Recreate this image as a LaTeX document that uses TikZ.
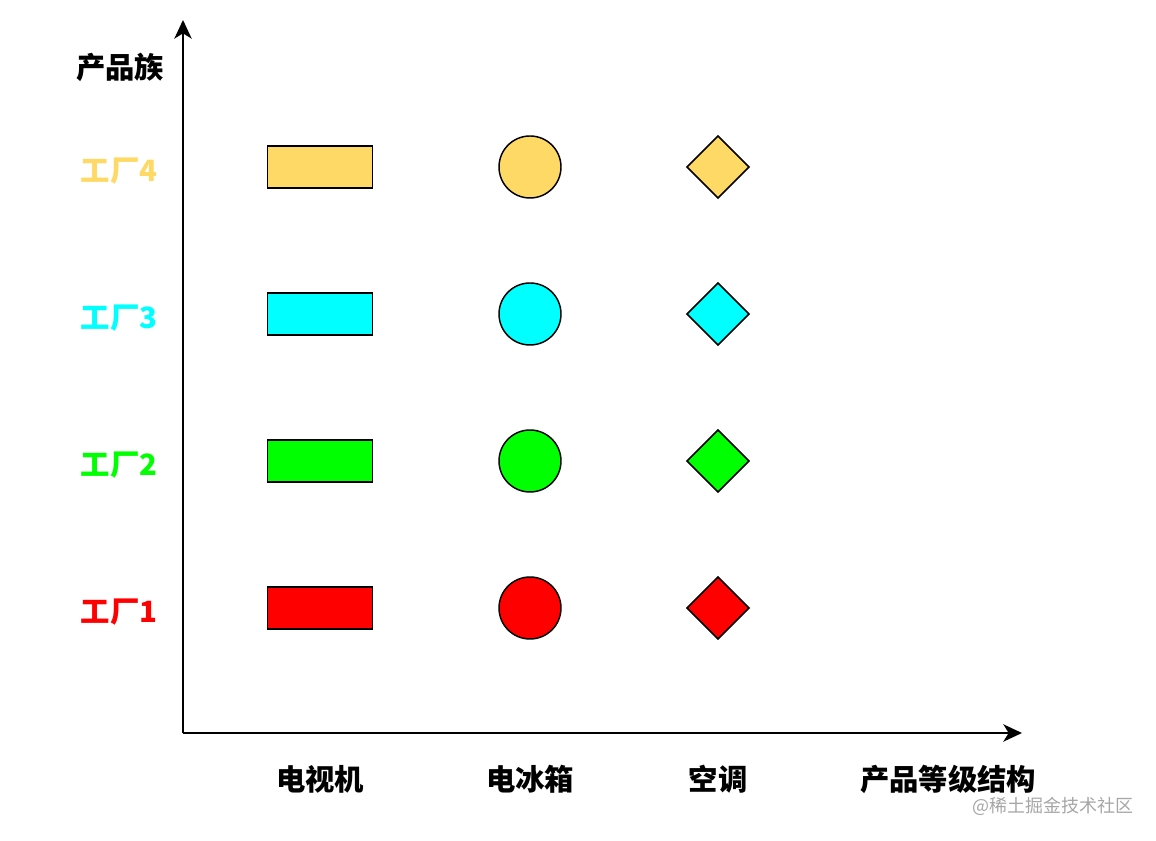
\documentclass[tikz,border=0pt]{standalone}
\usepackage{fontspec}
\newfontfamily\cjk{Noto Sans CJK SC}
\usetikzlibrary{arrows.meta}
\definecolor{fOrange}{HTML}{FFD966}
\definecolor{fCyan}{HTML}{00FFFF}
\definecolor{fGreen}{HTML}{00FF00}
\definecolor{fRed}{HTML}{FF0000}
\tikzset{
  axis/.style={line width=1.5pt, -{Stealth[length=14pt,width=13pt,inset=4pt]}},
  prod/.style={draw, line width=1.1pt},
  lbl/.style={font=\cjk\bfseries\fontsize{22}{26}\selectfont},
}

\begin{document}
\begin{tikzpicture}[x=0.75pt,y=0.75pt]
  \useasboundingbox (0,0) rectangle (1156,841);

  % axes
  \coordinate (O) at (183,108);
  \coordinate (ytop) at (183,821);
  \coordinate (xend) at (1022,108);
  \draw [axis] (O) -- (ytop);
  \draw [axis] (O) -- (xend);
  \node [lbl] (family) at (120,774) {产品族};
  \node [lbl] (grade) at (948,62) {产品等级结构};

  % products
  \node [lbl] (tv) at (320,62) {电视机};
  \node [lbl] (fridge) at (530,62) {电冰箱};
  \node [lbl] (ac) at (718,62) {空调};

  % factory 4
  \node [lbl, text=fOrange] (f4) at (119,670) {工厂4};
  \node [prod, fill=fOrange, minimum width=105*0.75pt, minimum height=42*0.75pt] (tv4) at (320,674) {};
  \node [prod, fill=fOrange, circle, minimum size=62*0.75pt] (fr4) at (530,674) {};
  \draw [prod, fill=fOrange] (718,705) -- (749,674) -- (718,643) -- (687,674) -- cycle;

  % factory 3
  \node [lbl, text=fCyan] (f3) at (119,523) {工厂3};
  \node [prod, fill=fCyan, minimum width=105*0.75pt, minimum height=42*0.75pt] (tv3) at (320,527) {};
  \node [prod, fill=fCyan, circle, minimum size=62*0.75pt] (fr3) at (530,527) {};
  \draw [prod, fill=fCyan] (718,558) -- (749,527) -- (718,496) -- (687,527) -- cycle;

  % factory 2
  \node [lbl, text=fGreen] (f2) at (119,376) {工厂2};
  \node [prod, fill=fGreen, minimum width=105*0.75pt, minimum height=42*0.75pt] (tv2) at (320,380) {};
  \node [prod, fill=fGreen, circle, minimum size=62*0.75pt] (fr2) at (530,380) {};
  \draw [prod, fill=fGreen] (718,411) -- (749,380) -- (718,349) -- (687,380) -- cycle;

  % factory 1
  \node [lbl, text=fRed] (f1) at (119,229) {工厂1};
  \node [prod, fill=fRed, minimum width=105*0.75pt, minimum height=42*0.75pt] (tv1) at (320,233) {};
  \node [prod, fill=fRed, circle, minimum size=62*0.75pt] (fr1) at (530,233) {};
  \draw [prod, fill=fRed] (718,264) -- (749,233) -- (718,202) -- (687,233) -- cycle;

  \node [text=gray!70, font=\cjk\fontsize{13.5}{16}\selectfont] (mark) at (1053,35) {@稀土掘金技术社区};
\end{tikzpicture}
\end{document}
